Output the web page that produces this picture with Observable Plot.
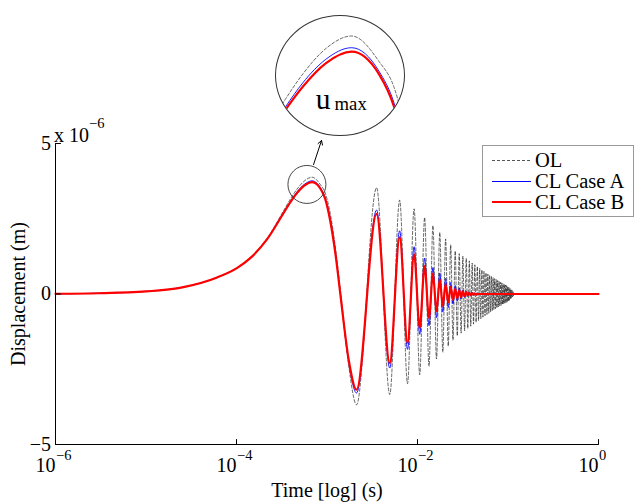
<!DOCTYPE html>
<html><head><meta charset="utf-8">
<script src="https://cdn.jsdelivr.net/npm/d3@7"></script>
<script src="https://cdn.jsdelivr.net/npm/@observablehq/plot@0.6"></script>
<style>
body{margin:0;background:#fff;}
#wrap{position:relative;width:638px;height:502px;font-family:"Liberation Serif","Times New Roman",serif;background:#fff;}
#inset{position:absolute;left:275px;top:15px;width:130px;height:121px;border:1px solid #333;border-radius:50%;overflow:hidden;box-sizing:border-box;background:#fff;}
#inset svg{position:absolute;left:-1px;top:-1px;}
#legend{position:absolute;left:482px;top:145px;width:152px;height:72px;border:1px solid #999;background:#fff;box-sizing:border-box;}
.lrow{position:absolute;left:0;height:20px;width:150px;}
.lrow svg{position:absolute;left:9px;top:0;}
.lrow span{position:absolute;left:52px;top:0;font-size:20.5px;line-height:20px;white-space:nowrap;color:#000;}
</style></head><body><div id="wrap"></div>
<script>
// ---- axis / tick data ----
const xDomain = [1e-6, 1];
const yDomain = [-5, 5];
const xTicks = [1e-6, 1e-4, 1e-2, 1];
const xTickExponents = ["\u22126", "\u22124", "\u22122", "0"];
const yTicks = [-5, 0, 5];
const yTickLabels = ["\u22125", "0", "5"];
const yMultiplier = "x 10";
const yMultiplierExponent = "\u22126";
const xLabel = "Time [log] (s)";
const yLabel = "Displacement (m)";

// ---- series (displacement in units of 1e-6 m) ----
const seriesNames = ["OL", "CL Case A", "CL Case B"];
const seriesColors = ["#000000", "#0000ff", "#ff0000"];

// initial rise, first peak and first descent (time in s)
const riseTime = [1e-6, 3e-6, 1e-5, 2.6e-5, 6.1e-5, 1.02e-4, 1.43e-4, 2.18e-4, 3.33e-4, 4.08e-4, 4.68e-4, 5.6e-4, 6.86e-4, 8.5e-4, 9.55e-4, 1.09e-3, 1.25e-3, 1.41e-3, 1.74e-3];
const olRise    = [0.008, 0.025, 0.085, 0.23, 0.55, 0.88, 1.22, 1.85, 2.78, 3.23, 3.49, 3.75, 3.88, 3.62, 3.36, 2.65, 1.45, 0.10, -2.40];
const caseARise = [0.008, 0.025, 0.085, 0.23, 0.55, 0.87, 1.20, 1.83, 2.72, 3.15, 3.40, 3.64, 3.76, 3.52, 3.20, 2.47, 1.30, -0.03, -2.27];
const caseBRise = [0.008, 0.025, 0.085, 0.23, 0.55, 0.87, 1.20, 1.82, 2.70, 3.12, 3.36, 3.60, 3.72, 3.49, 3.16, 2.40, 1.25, -0.05, -2.20];

// successive troughs / peaks of the decaying oscillation (time in ms)
const extremaTimeMs = [2.12, 3.53, 4.94, 6.35, 7.76, 9.17, 10.58, 11.99, 13.40, 14.81,
  16.22, 17.63, 19.04, 20.45, 21.86, 23.27, 24.68, 26.09, 27.50, 28.91,
  30.32, 31.73, 33.14, 34.55, 35.96, 37.37, 38.78, 40.19, 41.60, 43.01,
  44.42, 45.83, 47.24, 48.65, 50.06, 51.47, 52.88, 54.29, 55.70, 57.11,
  58.52, 59.93, 61.34, 62.75, 64.16, 65.57, 66.98, 68.39, 69.80, 71.21,
  72.62, 74.03, 75.44, 76.85, 78.26, 79.67, 81.08, 82.49, 83.90, 85.31,
  86.72, 88.13, 89.54, 90.95, 92.36, 93.77, 95.18, 96.59, 98.00, 99.41,
  100.82, 102.23, 103.64, 105.05, 106.46, 107.87, 109.28, 110.69, 112.10, 113.51,
  114.92, 116.33, 117.74, 119.15];
const olExtrema = [-3.68, 3.53, -3.34, 3.12, -2.98, 2.83, -2.68, 2.54, -2.40, 2.27,
  -2.16, 2.04, -1.93, 1.83, -1.73, 1.63, -1.53, 1.43, -1.39, 1.34,
  -1.30, 1.26, -1.22, 1.18, -1.14, 1.10, -1.07, 1.03, -1.00, 0.97,
  -0.94, 0.91, -0.88, 0.85, -0.82, 0.80, -0.77, 0.75, -0.72, 0.70,
  -0.68, 0.66, -0.64, 0.62, -0.60, 0.58, -0.56, 0.54, -0.52, 0.51,
  -0.49, 0.48, -0.46, 0.45, -0.43, 0.42, -0.40, 0.39, -0.38, 0.37,
  -0.35, 0.34, -0.33, 0.32, -0.31, 0.30, -0.29, 0.28, -0.27, 0.25,
  -0.24, 0.22, -0.21, 0.19, -0.17, 0.16, -0.14, 0.12, -0.10, 0.08,
  -0.06, 0.04, -0.02, 0];
const caseAExtrema = [-3.29, 2.79, -2.46, 2.10, -1.84, 1.57, -1.34, 1.19, -1.05, 0.88,
  -0.79, 0.70, -0.60, 0.52, -0.45, 0.38, -0.33, 0.28, -0.24, 0.20,
  -0.17, 0.14, -0.12, 0.10, -0.08, 0.07, -0.06, 0.05, -0.04, 0.03,
  -0.02, 0.015, -0.01, 0];
const caseBExtrema = [-3.18, 2.66, -2.29, 1.88, -1.62, 1.32, -1.12, 0.93, -0.79, 0.68,
  -0.57, 0.49, -0.40, 0.33, -0.28, 0.24, -0.20, 0.17, -0.14, 0.12,
  -0.10, 0.085, -0.07, 0.06, -0.05, 0.04, -0.03, 0.025, -0.02, 0.015,
  -0.01, 0];
const endTime = 1;

// ---- annotation (magnified peak u_max) ----
const zoomSpot = [{t: 6.0e-4, v: 3.64}];
const zoomArrow = [{t1: 7.1e-4, v1: 4.30, t2: 8.7e-4, v2: 5.10}];
const insetTimeDomain = [3.78e-4, 1.03e-3];
const insetValueDomain = [2.87, 4.09];
const insetLabel = "u";
const insetLabelSub = "max";

// ---- build tables ----
function buildRows(riseValues, extremaValues) {
  const rows = riseTime.map((t, i) => ({t, v: riseValues[i]}));
  extremaValues.forEach((v, i) => rows.push({t: extremaTimeMs[i] / 1000, v}));
  rows.push({t: endTime, v: 0});
  return rows;
}
const olRows = buildRows(olRise, olExtrema);
const aRows = buildRows(caseARise, caseAExtrema);
const bRows = buildRows(caseBRise, caseBExtrema);

const serif = "Liberation Serif, Times New Roman, serif";
const tickShape = {draw(ctx, l) { ctx.moveTo(0, 0); ctx.lineTo(0, -l); }};

function seriesMarks(clip) {
  return [
    Plot.line(olRows, {x: "t", y: "v", stroke: seriesColors[0], strokeWidth: 0.6, strokeDasharray: "3,2", curve: "monotone-x", clip}),
    Plot.line(aRows, {x: "t", y: "v", stroke: seriesColors[1], strokeWidth: 0.9, curve: "monotone-x", clip}),
    Plot.line(bRows, {x: "t", y: "v", stroke: seriesColors[2], strokeWidth: 2.2, curve: "monotone-x", clip})
  ];
}

const chart = Plot.plot({
  width: 638, height: 502,
  marginLeft: 55, marginRight: 40, marginTop: 143, marginBottom: 58,
  x: {type: "log", domain: xDomain, axis: null},
  y: {domain: yDomain, axis: null},
  style: {fontFamily: serif, fontSize: "20px", background: "transparent", overflow: "visible"},
  marks: [
    ...seriesMarks(false),
    Plot.ruleY([yDomain[0]], {stroke: "#000", strokeWidth: 1}),
    Plot.ruleX([xDomain[0]], {stroke: "#000", strokeWidth: 1}),
    Plot.vector(xTicks, {x: d => d, y: () => yDomain[0], length: 5, rotate: 0, anchor: "start", shape: tickShape, stroke: "#000", strokeWidth: 1}),
    Plot.vector(yTicks, {x: () => xDomain[0], y: d => d, length: 5, rotate: 90, anchor: "start", shape: tickShape, stroke: "#000", strokeWidth: 1}),
    Plot.text(xTicks, {x: d => d, y: () => yDomain[0], text: () => "10", textAnchor: "end", lineAnchor: "bottom", dy: 27.5, fontSize: 20, fill: "#000"}),
    Plot.text(xTicks, {x: d => d, y: () => yDomain[0], text: (d, i) => xTickExponents[i], textAnchor: "start", lineAnchor: "bottom", dx: 0.5, dy: 15, fontSize: 14.5, fill: "#000"}),
    Plot.text(yTicks, {x: () => xDomain[0], y: d => d, text: (d, i) => yTickLabels[i], textAnchor: "end", lineAnchor: "middle", dx: -4.5, fontSize: 20, fill: "#000"}),
    Plot.text([yMultiplier], {x: () => xDomain[0], y: () => yDomain[1], text: d => d, textAnchor: "start", lineAnchor: "bottom", dx: -1.5, dy: -1.6, fontSize: 20, fill: "#000"}),
    Plot.text([yMultiplierExponent], {x: () => xDomain[0], y: () => yDomain[1], text: d => d, textAnchor: "start", lineAnchor: "bottom", dx: 33.5, dy: -15.3, fontSize: 14.5, fill: "#000"}),
    Plot.text([xLabel], {frameAnchor: "bottom", text: d => d, textAnchor: "middle", lineAnchor: "bottom", dy: 52, fontSize: 20, fill: "#000"}),
    Plot.text([yLabel], {frameAnchor: "left", text: d => d, rotate: -90, textAnchor: "middle", lineAnchor: "middle", dx: -37, fontSize: 20, fill: "#000"}),
    Plot.dot(zoomSpot, {x: "t", y: "v", r: 19, stroke: "#333", strokeWidth: 0.9, fill: "none"}),
    Plot.arrow(zoomArrow, {x1: "t1", y1: "v1", x2: "t2", y2: "v2", stroke: "#000", strokeWidth: 1, headLength: 7})
  ]
});
const wrap = document.getElementById("wrap");
chart.style.position = "absolute"; chart.style.left = "0"; chart.style.top = "0";
wrap.appendChild(chart);

// magnified inset
const insetDiv = document.createElement("div");
insetDiv.id = "inset";
const inset = Plot.plot({
  width: 130, height: 121, margin: 0,
  x: {type: "log", domain: insetTimeDomain, axis: null},
  y: {domain: insetValueDomain, axis: null},
  style: {fontFamily: serif, background: "transparent"},
  marks: [
    ...seriesMarks(true),
    Plot.text([insetLabel], {frameAnchor: "top-left", text: d => d, textAnchor: "start", lineAnchor: "bottom", dx: 41, dy: 95, fontSize: 30, fill: "#000"}),
    Plot.text([insetLabelSub], {frameAnchor: "top-left", text: d => d, textAnchor: "start", lineAnchor: "bottom", dx: 60, dy: 96.5, fontSize: 19, fill: "#000"})
  ]
});
insetDiv.appendChild(inset);
wrap.appendChild(insetDiv);

// legend
const legend = document.createElement("div");
legend.id = "legend";
const rowCenters = [15, 36, 57];
const legendDash = ["3,2", null, null];
const legendWidth = [1, 1, 2];
const legendLineY = [10.5, 10.5, 10];
seriesNames.forEach((name, i) => {
  const row = document.createElement("div");
  row.className = "lrow";
  row.style.top = (rowCenters[i] - 10 - 1) + "px";
  const svg = d3.create("svg").attr("width", 40).attr("height", 20);
  svg.append("line").attr("x1", 0).attr("x2", 39).attr("y1", legendLineY[i]).attr("y2", legendLineY[i])
    .attr("stroke", i === 0 ? "#555" : seriesColors[i]).attr("stroke-width", legendWidth[i])
    .attr("stroke-dasharray", legendDash[i]);
  row.appendChild(svg.node());
  const span = document.createElement("span");
  span.textContent = name;
  row.appendChild(span);
  legend.appendChild(row);
});
wrap.appendChild(legend);
</script></body></html>
